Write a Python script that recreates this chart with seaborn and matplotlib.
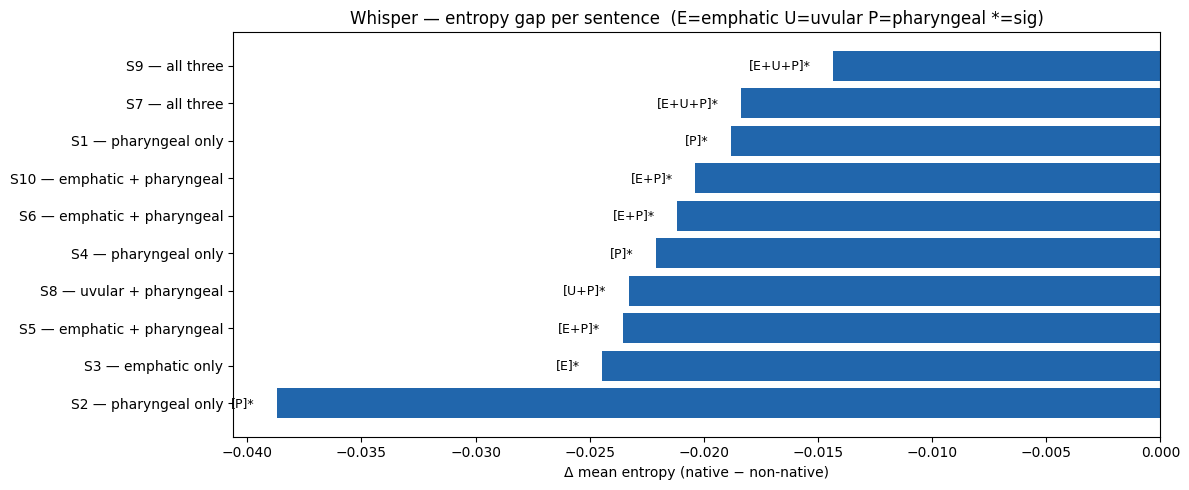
import numpy as np
import pandas as pd
import matplotlib
matplotlib.use("Agg")
import matplotlib.pyplot as plt
import seaborn as sns

# sentences, top to bottom as drawn
sentences = ["S9 — all three", "S7 — all three", "S1 — pharyngeal only",
             "S10 — emphatic + pharyngeal", "S6 — emphatic + pharyngeal",
             "S4 — pharyngeal only", "S8 — uvular + pharyngeal",
             "S5 — emphatic + pharyngeal", "S3 — emphatic only",
             "S2 — pharyngeal only"]
gaps = [-0.01433, -0.01836, -0.01880, -0.02037, -0.02116,
        -0.02208, -0.02326, -0.02353, -0.02445, -0.03869]
tags = ["[E+U+P]*", "[E+U+P]*", "[P]*", "[E+P]*", "[E+P]*",
        "[P]*", "[U+P]*", "[E+P]*", "[E]*", "[P]*"]

df = pd.DataFrame({"sentence": sentences, "gap": gaps, "tag": tags})

fig, ax = plt.subplots(figsize=(12, 5), dpi=100)
sns.barplot(data=df, x="gap", y="sentence", orient="h", color="#2166ac",
            saturation=1, errorbar=None, linewidth=0, width=0.8, ax=ax)

# matplotlib-style margins instead of seaborn's +-0.5
n = len(df)
pad = 0.4 + 0.05 * (n - 1 + 0.8)
ax.set_ylim(n - 1 + pad, -pad)
ax.set_xlim(min(gaps) * 1.05, 0)

for i, (v, t) in enumerate(zip(df["gap"], df["tag"])):
    ax.text(v - 0.001, i, t, ha="right", va="center", fontsize=9)

ax.set_title("Whisper — entropy gap per sentence  (E=emphatic U=uvular P=pharyngeal *=sig)",
             fontsize=12)
ax.set_xlabel("Δ mean entropy (native − non-native)")
ax.set_ylabel("")

plt.tight_layout()
plt.savefig("out.png", dpi=100, bbox_inches="tight")
